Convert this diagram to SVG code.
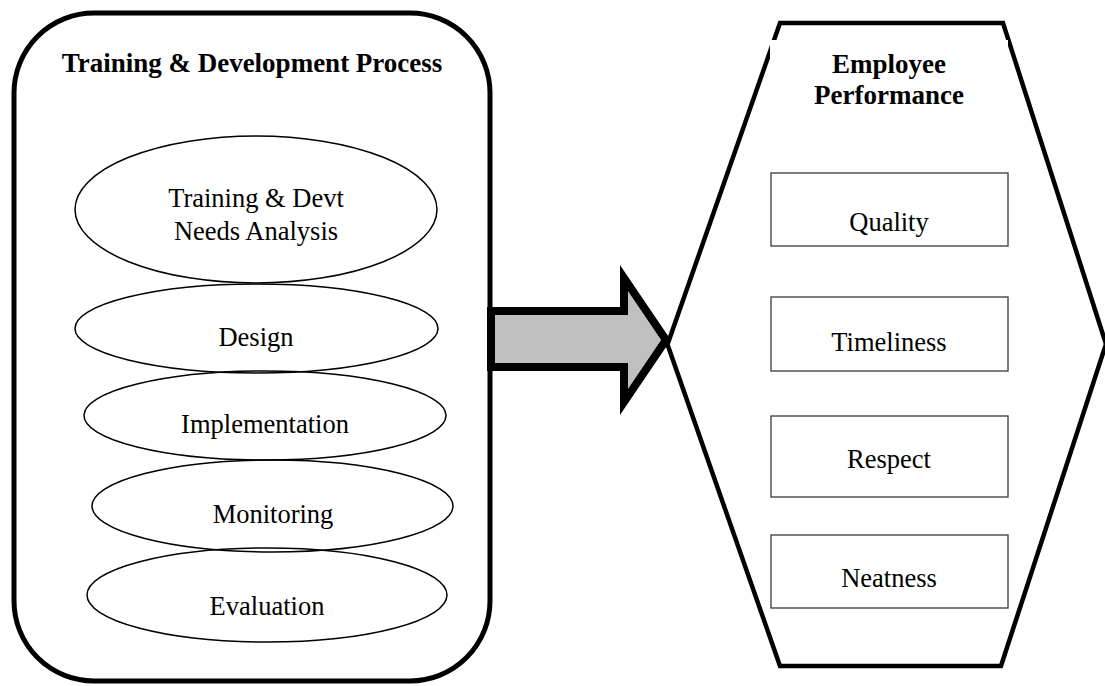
<svg xmlns="http://www.w3.org/2000/svg" width="1105" height="686" viewBox="0 0 1105 686">
  <style>
    .frame { fill: none; stroke: #000; stroke-width: 5; }
    .hex { fill: none; stroke: #000; stroke-width: 4.5; stroke-linejoin: miter; }
    .step { fill: none; stroke: #000; stroke-width: 1.5; }
    .box { fill: #fff; stroke: #3a3a3a; stroke-width: 1.3; }
    .title { font-family: "Liberation Serif", "Times New Roman", serif; font-weight: bold; font-size: 27px; fill: #000; text-anchor: middle; }
    .label { font-family: "Liberation Serif", "Times New Roman", serif; font-size: 26.5px; fill: #000; text-anchor: middle; }
    .arrow { fill: #c0c0c0; stroke: #000; stroke-width: 8; stroke-linejoin: miter; }
  </style>
  <rect width="1105" height="686" fill="#fff"/>

  <!-- Training & Development process panel -->
  <g id="process">
    <rect class="frame" x="14" y="13" width="476" height="668" rx="80" ry="80"/>
    <text class="title" x="252" y="72">Training &amp; Development Process</text>
  </g>

  <g id="needs-analysis">
    <ellipse class="step" cx="256" cy="209.5" rx="181" ry="73.5"/>
    <text class="label" x="256" y="207">Training &amp; Devt</text>
    <text class="label" x="256" y="240">Needs Analysis</text>
  </g>
  <g id="design">
    <ellipse class="step" cx="256.5" cy="328.5" rx="181.5" ry="44.5"/>
    <text class="label" x="256" y="346">Design</text>
  </g>
  <g id="implementation">
    <ellipse class="step" cx="265" cy="415.5" rx="181" ry="44.5"/>
    <text class="label" x="265" y="433">Implementation</text>
  </g>
  <g id="monitoring">
    <ellipse class="step" cx="272.5" cy="506" rx="180.5" ry="46"/>
    <text class="label" x="273" y="523">Monitoring</text>
  </g>
  <g id="evaluation">
    <ellipse class="step" cx="267" cy="595" rx="180" ry="47"/>
    <text class="label" x="267" y="615">Evaluation</text>
  </g>

  <!-- Block arrow from the process panel to performance -->
  <g id="connectors">
    <polygon class="arrow" points="491,311 624,311 624,278 666,340 624,402 624,367 491,367"/>
  </g>

  <!-- Employee performance hexagon -->
  <g id="performance">
    <polygon class="hex" points="780,23 1003,23 1106,344 1001,666 780,666 667.5,344.5"/>
    <rect x="770" y="40" width="238" height="80" fill="#fff"/>
    <text class="title" x="889" y="73">Employee</text>
    <text class="title" x="889" y="104">Performance</text>
  </g>

  <g id="quality">
    <rect class="box" x="771" y="173" width="237" height="73"/>
    <text class="label" x="889" y="231">Quality</text>
  </g>
  <g id="timeliness">
    <rect class="box" x="771" y="297" width="237" height="74"/>
    <text class="label" x="889" y="351">Timeliness</text>
  </g>
  <g id="respect">
    <rect class="box" x="771" y="416" width="237" height="81"/>
    <text class="label" x="889" y="468">Respect</text>
  </g>
  <g id="neatness">
    <rect class="box" x="771" y="535" width="237" height="73"/>
    <text class="label" x="889" y="587">Neatness</text>
  </g>
</svg>
